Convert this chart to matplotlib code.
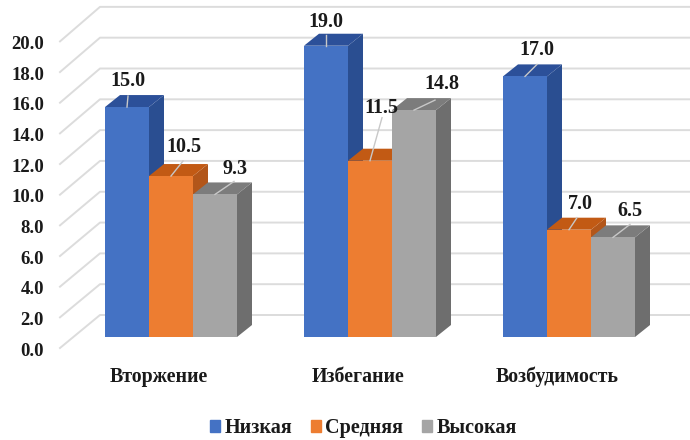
import matplotlib.pyplot as plt
from matplotlib.patches import Polygon, Patch

plt.rcParams["font.family"] = ["Liberation Serif", "DejaVu Serif"]
plt.rcParams["font.weight"] = "bold"

categories = ["Вторжение", "Избегание", "Возбудимость"]
series_names = ["Низкая", "Средняя", "Высокая"]
low = [15.0, 19.0, 17.0]
medium = [10.5, 11.5, 7.0]
high = [9.3, 14.8, 6.5]
y_ticks = [0, 2, 4, 6, 8, 10, 12, 14, 16, 18, 20]

# front, top, side colour per series
colors = [
    ("#4472c4", "#2c5099", "#2a4e91"),
    ("#ed7d31", "#c25a14", "#b2561a"),
    ("#a5a5a5", "#7c7c7c", "#6e6e6e"),
]

# scales, pixels per unit on the 690x440 canvas
PX_X = 199.0
PX_Y = 15.33
bar_w = 44 / PX_X
depth_x = 15 / PX_X
depth_y = 12 / PX_Y

# label and leader line offsets from bar top centre, in pixels
label_off = [
    [(1, 26), (13, 29), (20, 25)],
    [(0, 24), (11, 53), (28, 26)],
    [(12, 26), (11, 26), (17, 26)],
]
leader_off = [
    [(1, 11), (12, 15), (19, 13)],
    [(0, 11), (12, 43), (21, 10)],
    [(12, 12), (8, 12), (17, 13)],
]

fig = plt.figure(figsize=(6.9, 4.4), dpi=100)
ax = fig.add_axes([0, 0, 1, 1])
ax.set_xlim(-171 / PX_X, (690 - 171) / PX_X)
ax.set_ylim(-(440 - 337) / PX_Y, 337 / PX_Y)
ax.axis("off")

# back wall grid and the diagonals on the side wall
wall_x0 = (60 - 171) / PX_X
wall_x1 = (100 - 171) / PX_X
wall_x2 = (690 - 171) / PX_X
for v in y_ticks:
    back = v * 1.005 + 22 / PX_Y
    front = v - 11 / PX_Y
    ax.plot([wall_x0, wall_x1, wall_x2], [front, back, back], color="#dcdcdc", lw=1.4, zorder=1)
    ax.text((44 - 171) / PX_X, front - 3 / PX_Y, f"{v:.1f}", ha="right", va="center",
            fontsize=13.5, color="#1a1a1a")

all_series = [low, medium, high]
for i, name in enumerate(categories):
    for j, vals in enumerate(all_series):
        v = vals[i]
        x = i + (j - 1) * bar_w
        left = x - bar_w / 2
        right = x + bar_w / 2
        front_c, top_c, side_c = colors[j]
        z = 2 + i * 3 + j
        ax.add_patch(Polygon(
            [(right, 0), (right + depth_x, depth_y), (right + depth_x, v + depth_y), (right, v)],
            color=side_c, lw=0, zorder=z))
        ax.add_patch(Polygon(
            [(left, v), (left + depth_x, v + depth_y), (right + depth_x, v + depth_y), (right, v)],
            color=top_c, lw=0, zorder=z))
        ax.bar(x, v, width=bar_w, color=front_c, linewidth=0, zorder=z)

        lx, ly = leader_off[i][j]
        ax.plot([x, x + lx / PX_X], [v, v + ly / PX_Y], color="#c8c8c8", lw=1, zorder=20)
        tx, ty = label_off[i][j]
        ax.text(x + tx / PX_X, v + ty / PX_Y, f"{v:.1f}", ha="center", va="center",
                fontsize=14.5, color="#1a1a1a", zorder=21)

    ax.text(i - 12 / PX_X, -40 / PX_Y, name, ha="center", va="center", fontsize=14.3, color="#1a1a1a")

handles = [Patch(color=colors[j][0], label=series_names[j]) for j in range(3)]
leg = ax.legend(handles=handles, loc="center", bbox_to_anchor=(363.5 / 690, 1 - 428 / 440), ncol=3,
                frameon=False, fontsize=14.5, handlelength=0.5, handleheight=0.5,
                handletextpad=0.2, columnspacing=0.94)
for t in leg.get_texts():
    t.set_color("#1a1a1a")

fig.savefig("out.png", dpi=100)
